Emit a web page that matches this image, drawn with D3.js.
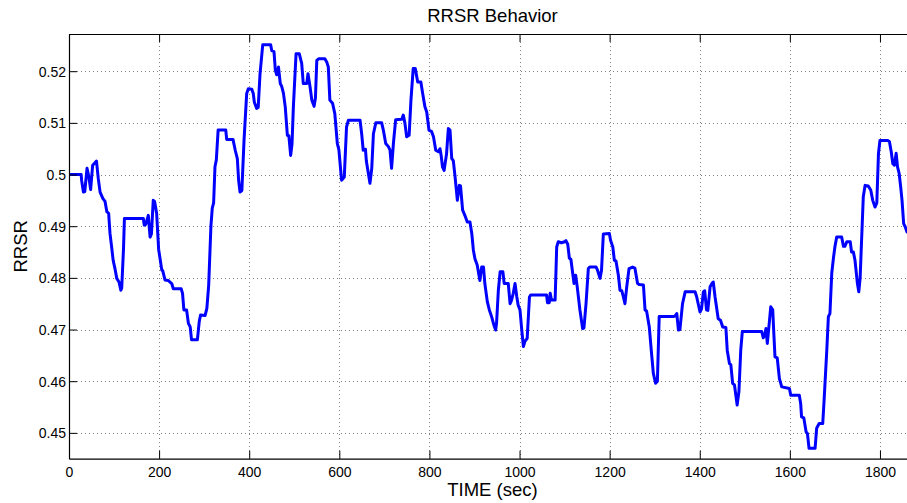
<!DOCTYPE html>
<html>
<head>
<meta charset="utf-8">
<script src="https://cdn.jsdelivr.net/npm/d3@7"></script>
<style>
  html, body { margin: 0; padding: 0; background: #fff; overflow: hidden; }
  svg { display: block; font-family: "Liberation Sans", Arial, Helvetica, sans-serif; }
</style>
</head>
<body>
<svg id="chart" width="907" height="503"></svg>
<script>
// ---- data ----
const title = "RRSR Behavior";
const xLabel = "TIME (sec)";
const yLabel = "RRSR";
const xTicks = [0, 200, 400, 600, 800, 1000, 1200, 1400, 1600, 1800];
const yTicks = [0.45, 0.46, 0.47, 0.48, 0.49, 0.5, 0.51, 0.52];
const xDomain = [0, 1880];
const yDomain = [0.445, 0.5272];

const times = [
  0, 27, 28, 32, 35, 40, 44, 48, 52.5, 56, 61, 65, 69, 75, 80, 84, 88, 91, 95, 98,
  102, 106, 111, 115, 117, 121, 123, 165, 167, 170, 176, 180, 183, 187, 190, 194.5, 199, 206, 208, 213,
  220, 228, 231.5, 249, 252, 255, 261, 265, 269, 272, 285, 289, 292, 302, 306, 310, 315, 318, 321, 324,
  327, 331, 348, 350, 364, 369, 373.6, 376.5, 379.6, 383.7, 388.5, 394.4, 398, 405.7, 409, 411.4, 416.6, 420, 424, 430,
  447.6, 450, 455, 458, 461, 465, 469, 472, 476, 480, 484.7, 488, 492, 495, 498, 504, 511, 516.5, 520, 527.6,
  530.5, 535, 539, 544, 547, 550, 554, 568, 572, 575.6, 579, 585, 590, 595.6, 599, 605, 611, 616, 620, 646,
  649.6, 653, 658, 660, 668, 672, 675.7, 681, 694, 697.7, 703, 709, 712.6, 716, 720, 725, 738.7, 742, 745.5, 749.5,
  755, 759, 764, 768.6, 774, 781, 785, 790, 794, 799, 805, 809, 814, 820, 823.5, 826, 829, 832.6, 838, 842,
  845.7, 849.5, 853, 857, 862, 866.4, 869, 873.7, 878.6, 884, 890, 894, 897.5, 901, 906, 912, 916, 920, 923, 928.5,
  933, 938, 943, 947, 949, 953, 957, 963, 966, 975, 979, 982, 986, 990, 994, 997, 1001, 1005, 1008.6, 1012,
  1017, 1022, 1025, 1060, 1062, 1066, 1068, 1071, 1079, 1082.5, 1086, 1093, 1100, 1103, 1107, 1110.6, 1114, 1118, 1121, 1124.6,
  1128, 1134, 1140, 1143, 1147.6, 1152.7, 1156, 1170, 1173, 1178.7, 1182, 1186, 1199.4, 1202, 1207, 1210.5, 1214, 1219.4, 1223, 1227,
  1230.5, 1234, 1238, 1243, 1251, 1256, 1262, 1266, 1275, 1278.6, 1282, 1288, 1293, 1297, 1302, 1306, 1310, 1341.5, 1345, 1349,
  1352.7, 1356, 1361.8, 1367.6, 1389.6, 1393, 1400.6, 1404, 1408, 1411, 1415, 1418, 1423, 1427, 1430, 1434, 1441, 1446, 1451, 1458,
  1461, 1466, 1469, 1473, 1477, 1480.6, 1483, 1487, 1491, 1494.5, 1537.6, 1541, 1544, 1547, 1550, 1554, 1557.6, 1562, 1564.8, 1567,
  1572, 1576.8, 1582, 1599, 1602, 1621, 1624, 1626, 1631, 1636, 1639, 1642.6, 1656, 1659.5, 1665, 1673, 1676, 1682, 1685.5, 1689,
  1693, 1697, 1700, 1704, 1715, 1719, 1722, 1726.6, 1734, 1737, 1741, 1744.6, 1750, 1753, 1756, 1759.5, 1763, 1767, 1774, 1779.5,
  1784, 1789, 1793, 1796.7, 1800, 1816.5, 1821, 1825, 1828.6, 1832, 1836, 1839, 1842.6, 1846, 1849, 1852.6, 1856, 1860
];

const rrsr = [
  0.5, 0.5, 0.4989, 0.4966, 0.4967, 0.5012, 0.4996, 0.4971, 0.5018, 0.5021, 0.5026, 0.4992, 0.4966, 0.4954, 0.4948, 0.4928, 0.4925, 0.4886, 0.4857, 0.4834,
  0.4818, 0.4799, 0.4792, 0.4776, 0.478, 0.4857, 0.4915, 0.4915, 0.4902, 0.4903, 0.4921, 0.4879, 0.4885, 0.495, 0.4948, 0.4925, 0.4855, 0.4815, 0.4814, 0.4796,
  0.4795, 0.4789, 0.4779, 0.4779, 0.477, 0.4738, 0.4738, 0.4712, 0.4705, 0.468, 0.468, 0.4715, 0.4728, 0.4727, 0.4741, 0.4785, 0.49, 0.4935, 0.4945, 0.5015,
  0.5028, 0.5086, 0.5086, 0.5068, 0.5068, 0.5047, 0.5031, 0.4989, 0.4966, 0.4969, 0.5066, 0.5157, 0.5166, 0.5165, 0.5157, 0.514, 0.5128, 0.513, 0.5195, 0.5251,
  0.5251, 0.524, 0.5238, 0.5202, 0.5193, 0.5208, 0.5176, 0.5171, 0.5157, 0.5131, 0.5076, 0.5075, 0.5037, 0.5059, 0.5131, 0.5234, 0.5234, 0.5215, 0.5176, 0.5176,
  0.5195, 0.517, 0.5144, 0.5132, 0.5148, 0.5221, 0.5224, 0.5224, 0.5218, 0.5208, 0.5144, 0.5138, 0.5118, 0.506, 0.5048, 0.4989, 0.4995, 0.5092, 0.5105, 0.5105,
  0.5079, 0.5047, 0.5049, 0.5026, 0.4983, 0.5012, 0.5079, 0.51, 0.51, 0.5086, 0.506, 0.5054, 0.5047, 0.5012, 0.506, 0.5106, 0.5107, 0.5115, 0.51, 0.5073,
  0.5076, 0.5144, 0.5205, 0.5205, 0.5179, 0.5179, 0.5157, 0.5131, 0.5121, 0.5086, 0.5083, 0.5073, 0.5047, 0.5044, 0.505, 0.5037, 0.5015, 0.5008, 0.504, 0.5089,
  0.5086, 0.5031, 0.5027, 0.4995, 0.495, 0.4979, 0.4978, 0.4931, 0.4921, 0.4908, 0.4908, 0.4886, 0.4854, 0.4837, 0.4825, 0.4795, 0.4821, 0.4821, 0.4789, 0.4754,
  0.4738, 0.4725, 0.4709, 0.4699, 0.4712, 0.4776, 0.4812, 0.4812, 0.4789, 0.4789, 0.475, 0.4756, 0.477, 0.4789, 0.4763, 0.4747, 0.4738, 0.4699, 0.4667, 0.4677,
  0.4683, 0.4763, 0.4767, 0.4767, 0.4752, 0.4752, 0.477, 0.4757, 0.4757, 0.486, 0.487, 0.4868, 0.487, 0.4872, 0.4865, 0.4838, 0.4836, 0.4809, 0.4789, 0.4805,
  0.4783, 0.4738, 0.4702, 0.4703, 0.475, 0.4818, 0.4821, 0.4821, 0.4815, 0.4799, 0.4815, 0.4885, 0.4886, 0.4873, 0.486, 0.4834, 0.4833, 0.4805, 0.4776, 0.4775,
  0.4763, 0.475, 0.4783, 0.4818, 0.4821, 0.4819, 0.4789, 0.4787, 0.4786, 0.4738, 0.4736, 0.4705, 0.4654, 0.4615, 0.4596, 0.46, 0.4725, 0.4725, 0.4726, 0.4731,
  0.4699, 0.47, 0.475, 0.4773, 0.4773, 0.4764, 0.4734, 0.474, 0.4773, 0.4775, 0.4738, 0.4737, 0.4783, 0.4789, 0.4792, 0.4763, 0.4721, 0.4718, 0.4705, 0.4704,
  0.466, 0.4634, 0.4632, 0.4596, 0.4593, 0.457, 0.4554, 0.458, 0.466, 0.4696, 0.4696, 0.4684, 0.4688, 0.4702, 0.4673, 0.471, 0.4744, 0.4738, 0.4686, 0.4647,
  0.4645, 0.4605, 0.4589, 0.4586, 0.4573, 0.4573, 0.4557, 0.4531, 0.4529, 0.4502, 0.4499, 0.447, 0.447, 0.4509, 0.4518, 0.4518, 0.4563, 0.466, 0.4725, 0.4731,
  0.4809, 0.484, 0.486, 0.4879, 0.4879, 0.4861, 0.4861, 0.487, 0.487, 0.485, 0.485, 0.4834, 0.4789, 0.4773, 0.48, 0.4879, 0.4957, 0.4979, 0.4978, 0.497,
  0.495, 0.4937, 0.4945, 0.5041, 0.5066, 0.5066, 0.5064, 0.5044, 0.5021, 0.5018, 0.5041, 0.5015, 0.5002, 0.4976, 0.495, 0.4905, 0.4899, 0.4889
];

// ---- layout ----
const mLeft = 69, mRight = 916, mTop = 34, mBottom = 458.7;
const svg = d3.select("#chart");

const x = d3.scaleLinear().domain(xDomain).range([mLeft, mRight]);
const y = d3.scaleLinear().domain(yDomain).range([mBottom, mTop]);

// grid
const grid = svg.append("g").attr("stroke", "#808080").attr("stroke-width", 1)
  .attr("stroke-dasharray", "1,3").attr("shape-rendering", "crispEdges");
grid.selectAll("line.v").data(xTicks.filter(d => d > 0)).join("line")
  .attr("x1", d => Math.round(x(d)) + 0.5).attr("x2", d => Math.round(x(d)) + 0.5)
  .attr("y1", mTop).attr("y2", mBottom);
grid.selectAll("line.h").data(yTicks).join("line")
  .attr("y1", d => Math.round(y(d)) + 0.5).attr("y2", d => Math.round(y(d)) + 0.5)
  .attr("x1", mLeft).attr("x2", mRight);

// data line
const pts = times.map((t, i) => [t, rrsr[i]]);
svg.append("defs").append("clipPath").attr("id", "clip")
  .append("rect").attr("x", mLeft).attr("y", mTop).attr("width", mRight - mLeft).attr("height", mBottom - mTop);
svg.append("path")
  .datum(pts)
  .attr("clip-path", "url(#clip)")
  .attr("fill", "none")
  .attr("stroke", "#0000ff")
  .attr("stroke-width", 3)
  .attr("stroke-linejoin", "round")
  .attr("stroke-linecap", "round")
  .attr("d", d3.line().x(d => x(d[0])).y(d => y(d[1])));

// axes
const fmt = d => String(d);
const xAxis = svg.append("g").attr("transform", `translate(0,${mBottom})`)
  .call(d3.axisBottom(x).tickValues(xTicks).tickFormat(fmt).tickSizeInner(-8).tickSizeOuter(0).tickPadding(8));
const xAxisTop = svg.append("g").attr("transform", `translate(0,${mTop})`)
  .call(d3.axisTop(x).tickValues(xTicks).tickFormat("").tickSizeInner(-8).tickSizeOuter(0));
const yAxis = svg.append("g").attr("transform", `translate(${mLeft},0)`)
  .call(d3.axisLeft(y).tickValues(yTicks).tickFormat(fmt).tickSizeInner(-8).tickSizeOuter(0).tickPadding(3));

[xAxis, xAxisTop, yAxis].forEach(g => {
  g.select(".domain").attr("stroke", "#000").attr("stroke-width", 1.2);
  g.selectAll(".tick line").attr("stroke", "#000").attr("stroke-width", 1);
  g.selectAll(".tick text").attr("fill", "#000").style("font-size", "14px")
    .style("font-family", "'Liberation Sans', Arial, Helvetica, sans-serif");
});
yAxis.selectAll(".tick text").attr("dy", "0.36em");

// labels
svg.append("text").attr("x", 492.5).attr("y", 21.5).attr("text-anchor", "middle")
  .style("font-size", "18.5px").attr("fill", "#000").text(title);
svg.append("text").attr("x", 492.5).attr("y", 496).attr("text-anchor", "middle")
  .style("font-size", "18.5px").attr("fill", "#000").text(xLabel);
svg.append("text").attr("transform", `translate(27,${(mTop + mBottom) / 2}) rotate(-90)`)
  .attr("text-anchor", "middle").style("font-size", "18.5px").attr("fill", "#000").text(yLabel);
</script>
</body>
</html>
